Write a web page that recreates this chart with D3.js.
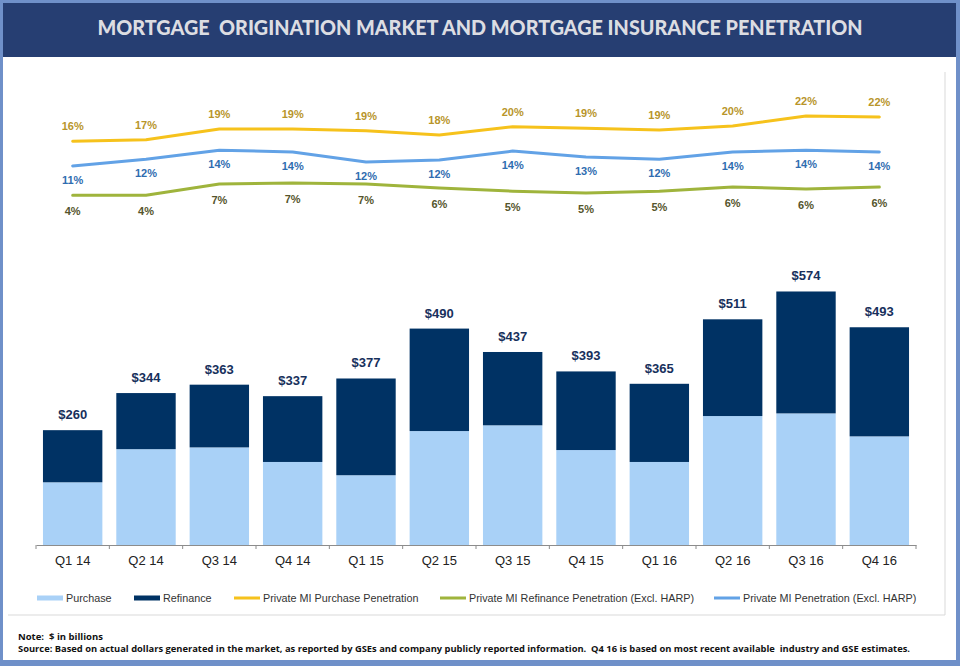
<!DOCTYPE html>
<html>
<head>
<meta charset="utf-8">
<script src="https://cdn.jsdelivr.net/npm/d3@7"></script>
<style>
  body { margin: 0; background: #fff; }
  svg { display: block; font-family: "Liberation Sans", Arial, sans-serif; }
  svg text { white-space: pre; }
</style>
</head>
<body>
<div id="chart"></div>
<script>
const width = 960;
const height = 666;

// data ($ billions, % penetration)
const quarters = ["Q1 14", "Q2 14", "Q3 14", "Q4 14", "Q1 15", "Q2 15",
                  "Q3 15", "Q4 15", "Q1 16", "Q2 16", "Q3 16", "Q4 16"];
const purchase  = [142, 217, 221, 188, 158, 258, 271, 215, 188, 292, 298, 246];
const refinance = [118, 127, 142, 149, 219, 232, 166, 178, 177, 219, 276, 247];
const totals    = [260, 344, 363, 337, 377, 490, 437, 393, 365, 511, 574, 493];
const miPurchase  = [16.4, 16.7, 19.1, 19.1, 18.7, 17.8, 19.6, 19.3, 18.9, 19.8, 22.0, 21.8];
const miRefinance = [4.4, 4.4, 6.9, 7.1, 6.9, 6.0, 5.3, 4.9, 5.3, 6.2, 5.8, 6.2];
const miTotal     = [10.9, 12.4, 14.4, 14.0, 11.8, 12.2, 14.2, 12.9, 12.4, 14.0, 14.4, 14.0];

const colors = {
  purchase: "#a9d1f7",
  refinance: "#003264",
  miPurchase: "#f6c21c",
  miRefinance: "#9fb43c",
  miTotal: "#62a2e6"
};

const svg = d3.select("#chart")
  .append("svg")
  .attr("width", width)
  .attr("height", height);

// frame + header
svg.append("rect").attr("width", width).attr("height", height).attr("fill", "#6f90c9");
svg.append("rect").attr("x", 3).attr("y", 3).attr("width", 953).attr("height", 657).attr("fill", "#fff");
svg.append("rect").attr("x", 3).attr("y", 3).attr("width", 953).attr("height", 54).attr("fill", "#263e72");
svg.append("text")
  .attr("x", 480).attr("y", 35)
  .attr("text-anchor", "middle")
  .attr("textLength", 765)
  .attr("lengthAdjust", "spacingAndGlyphs")
  .attr("fill", "#dcdde2")
  .style("font-family", "Lato, 'DejaVu Sans', sans-serif")
  .style("font-weight", "900")
  .style("font-size", "20px")
  .text("MORTGAGE  ORIGINATION MARKET AND MORTGAGE INSURANCE PENETRATION");

// chart area border (right + bottom only show)
svg.append("line").attr("x1", 945).attr("x2", 945).attr("y1", 72).attr("y2", 615)
  .attr("stroke", "#d9d9d9");
svg.append("line").attr("x1", 8).attr("x2", 945).attr("y1", 615).attr("y2", 615)
  .attr("stroke", "#d9d9d9");

// scales
const x = d3.scaleBand()
  .domain(quarters)
  .range([36, 916])
  .paddingInner(0.19)
  .paddingOuter(0.095);

const yBar = d3.scaleLinear().domain([0, 600]).range([545, 280]);
const yPct = d3.scaleLinear().domain([0, 25]).range([215, 102.5]);

const table = quarters.map((q, i) => ({
  quarter: q,
  purchase: purchase[i],
  refinance: refinance[i],
  total: totals[i]
}));

const stacked = d3.stack().keys(["purchase", "refinance"])(table);

svg.append("g")
  .selectAll("g")
  .data(stacked)
  .join("g")
  .attr("fill", (d) => colors[d.key])
  .selectAll("rect")
  .data((d) => d)
  .join("rect")
  .attr("x", (d) => x(d.data.quarter))
  .attr("y", (d) => yBar(d[1]))
  .attr("width", x.bandwidth())
  .attr("height", (d) => yBar(d[0]) - yBar(d[1]));

// total labels
svg.append("g")
  .selectAll("text")
  .data(table)
  .join("text")
  .attr("x", (d) => x(d.quarter) + x.bandwidth() / 2)
  .attr("y", (d) => yBar(d3.max([d.total, d.purchase + d.refinance])) - 11)
  .attr("text-anchor", "middle")
  .attr("fill", "#17305c")
  .style("font-size", "13px")
  .style("font-weight", "bold")
  .text((d) => "$" + d.total);

// x axis
const gap = (x.step() - x.bandwidth()) / 2;
const xAxis = svg.append("g")
  .attr("transform", `translate(0, ${yBar(0)})`)
  .call(d3.axisBottom(x).tickSize(0).tickPadding(11));
xAxis.select(".domain").attr("stroke", "#8c8c8c");
xAxis.selectAll("text")
  .attr("fill", "#222")
  .style("font-size", "13px")
  .style("font-family", "'Liberation Sans', Arial, sans-serif");
const bounds = quarters.map((q) => x(q) - gap).concat([x(quarters[quarters.length - 1]) + x.bandwidth() + gap]);
xAxis.selectAll(".bound")
  .data(bounds)
  .join("line")
  .attr("class", "bound")
  .attr("x1", (d) => d).attr("x2", (d) => d)
  .attr("y1", 0).attr("y2", 4)
  .attr("stroke", "#8c8c8c");

// penetration lines
const lineSeries = [
  { key: "miPurchase", values: miPurchase, dy: -15, label: "#b8952a" },
  { key: "miTotal", values: miTotal, dy: 14, label: "#2f6db0" },
  { key: "miRefinance", values: miRefinance, dy: 16, label: "#55552c" }
];

const line = d3.line()
  .x((d, i) => x(quarters[i]) + x.bandwidth() / 2)
  .y((d) => yPct(d));

const lines = svg.append("g");
lines.selectAll("path")
  .data(lineSeries)
  .join("path")
  .attr("d", (s) => line(s.values))
  .attr("fill", "none")
  .attr("stroke", (s) => colors[s.key])
  .attr("stroke-width", 3)
  .attr("stroke-linejoin", "round")
  .attr("stroke-linecap", "round");

lineSeries.forEach((s) => {
  lines.append("g")
    .selectAll("text")
    .data(s.values)
    .join("text")
    .attr("x", (d, i) => x(quarters[i]) + x.bandwidth() / 2)
    .attr("y", (d) => yPct(d) + s.dy)
    .attr("dy", "0.35em")
    .attr("text-anchor", "middle")
    .attr("fill", s.label)
    .style("font-size", "11px")
    .style("font-weight", "bold")
    .text((d) => Math.round(d) + "%");
});

// legend
const legendItems = [
  { name: "Purchase", key: "purchase", type: "bar", x: 37 },
  { name: "Refinance", key: "refinance", type: "bar", x: 134 },
  { name: "Private MI Purchase Penetration", key: "miPurchase", type: "line", x: 234 },
  { name: "Private MI Refinance Penetration (Excl. HARP)", key: "miRefinance", type: "line", x: 440 },
  { name: "Private MI Penetration (Excl. HARP)", key: "miTotal", type: "line", x: 714 }
];

const legend = svg.append("g").attr("transform", "translate(0, 598)");
const li = legend.selectAll("g")
  .data(legendItems)
  .join("g")
  .attr("transform", (d) => `translate(${d.x}, 0)`);
li.append("rect")
  .attr("x", 0)
  .attr("y", (d) => (d.type === "bar" ? -2.5 : -1.5))
  .attr("width", 26)
  .attr("height", (d) => (d.type === "bar" ? 5 : 3))
  .attr("fill", (d) => colors[d.key]);
li.append("text")
  .attr("x", 29)
  .attr("dy", "0.35em")
  .attr("fill", "#333")
  .style("font-size", "10.8px")
  .text((d) => d.name);

// notes
const notes = svg.append("g")
  .style("font-family", "'Open Sans', 'DejaVu Sans', sans-serif")
  .style("font-weight", "bold")
  .style("font-size", "9.5px")
  .attr("fill", "#111");
notes.append("text").attr("x", 18).attr("y", 640).text("Note:  $ in billions");
notes.append("text").attr("x", 18).attr("y", 652)
  .attr("textLength", 892)
  .attr("lengthAdjust", "spacingAndGlyphs")
  .text("Source: Based on actual dollars generated in the market, as reported by GSEs and company publicly reported information.  Q4 16 is based on most recent available  industry and GSE estimates.");
</script>
</body>
</html>
